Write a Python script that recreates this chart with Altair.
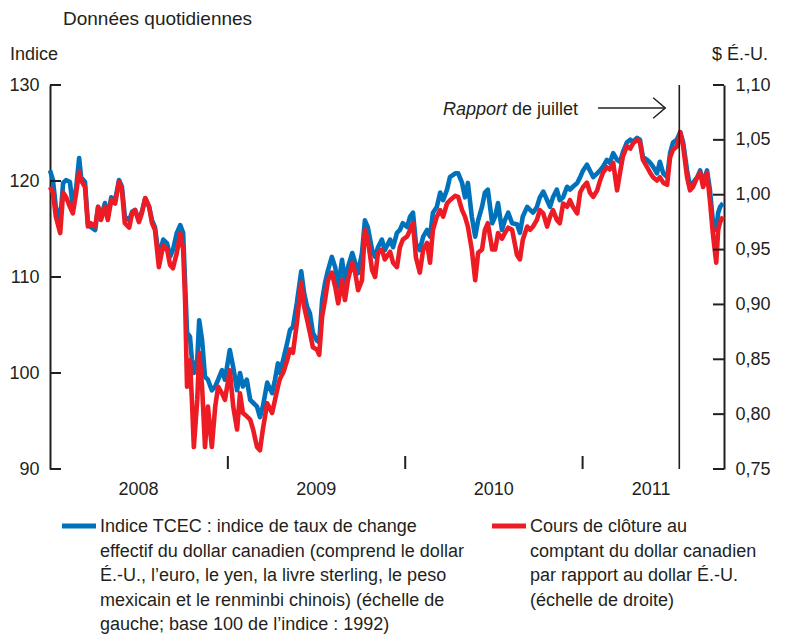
import altair as alt
import pandas as pd

# ---------------- data ----------------
dates = [
    "2008-01-01", "2008-01-07", "2008-01-13", "2008-01-22", "2008-01-28", "2008-02-03", "2008-02-11",
    "2008-02-17", "2008-02-24", "2008-03-01", "2008-03-05", "2008-03-13", "2008-03-19", "2008-03-25",
    "2008-04-03", "2008-04-09", "2008-04-15", "2008-04-23", "2008-04-29", "2008-05-06", "2008-05-14",
    "2008-05-22", "2008-05-28", "2008-06-03", "2008-06-12", "2008-06-18", "2008-06-24", "2008-07-02",
    "2008-07-08", "2008-07-15", "2008-07-23", "2008-07-29", "2008-08-04", "2008-08-12", "2008-08-21",
    "2008-08-29", "2008-09-04", "2008-09-10", "2008-09-18", "2008-09-25", "2008-10-01", "2008-10-05",
    "2008-10-09", "2008-10-15", "2008-10-19", "2008-10-23", "2008-10-30", "2008-11-03", "2008-11-09",
    "2008-11-15", "2008-11-21", "2008-11-29", "2008-12-06", "2008-12-12", "2008-12-20", "2008-12-26",
    "2009-01-05", "2009-01-12", "2009-01-20", "2009-01-26", "2009-02-01", "2009-02-09", "2009-02-16",
    "2009-02-22", "2009-03-02", "2009-03-08", "2009-03-14", "2009-03-23", "2009-04-02", "2009-04-08",
    "2009-04-14", "2009-04-18", "2009-04-25", "2009-05-03", "2009-05-09", "2009-05-15", "2009-05-23",
    "2009-06-01", "2009-06-07", "2009-06-13", "2009-06-19", "2009-06-25", "2009-07-03", "2009-07-08",
    "2009-07-14", "2009-07-20", "2009-07-26", "2009-08-03", "2009-08-10", "2009-08-16", "2009-08-24",
    "2009-08-30", "2009-09-05", "2009-09-14", "2009-09-20", "2009-09-26", "2009-10-04", "2009-10-10",
    "2009-10-16", "2009-10-25", "2009-10-31", "2009-11-06", "2009-11-14", "2009-11-20", "2009-12-01",
    "2009-12-07", "2009-12-15", "2009-12-21", "2009-12-27", "2010-01-05", "2010-01-11", "2010-01-17",
    "2010-01-23", "2010-01-31", "2010-02-07", "2010-02-15", "2010-02-21", "2010-02-27", "2010-03-07",
    "2010-03-14", "2010-03-20", "2010-03-28", "2010-04-03", "2010-04-14", "2010-04-20", "2010-04-28",
    "2010-05-04", "2010-05-10", "2010-05-18", "2010-05-25", "2010-05-31", "2010-06-08", "2010-06-14",
    "2010-06-20", "2010-06-29", "2010-07-05", "2010-07-11", "2010-07-19", "2010-07-25", "2010-08-01",
    "2010-08-09", "2010-08-19", "2010-08-25", "2010-08-31", "2010-09-09", "2010-09-15", "2010-09-21",
    "2010-09-29", "2010-10-05", "2010-10-12", "2010-10-20", "2010-10-26", "2010-11-01", "2010-11-09",
    "2010-11-15", "2010-11-22", "2010-11-30", "2010-12-06", "2010-12-12", "2010-12-21", "2010-12-27",
    "2011-01-02", "2011-01-10", "2011-01-16", "2011-01-23", "2011-01-31", "2011-02-06", "2011-02-12",
    "2011-02-20", "2011-02-26", "2011-03-05", "2011-03-13", "2011-03-19", "2011-03-25", "2011-04-02",
    "2011-04-09", "2011-04-15", "2011-04-23", "2011-04-29", "2011-05-05", "2011-05-14", "2011-05-20",
    "2011-05-26", "2011-06-03", "2011-06-09", "2011-06-16", "2011-06-24", "2011-06-30", "2011-07-06",
    "2011-07-14", "2011-07-21", "2011-07-27", "2011-08-04", "2011-08-10", "2011-08-16", "2011-08-25",
    "2011-08-31", "2011-09-06", "2011-09-14", "2011-09-20", "2011-09-26", "2011-10-03", "2011-10-07",
    "2011-10-11", "2011-10-17",
]

ceri = [
    121.1, 120.1, 117.3, 115.9, 119.8, 120.1, 119.9, 117.3, 119.4, 122.4, 120.4, 119.9, 115.6, 115.2,
    114.9, 117.3, 116.3, 117.7, 116.3, 118.3, 118.0, 120.1, 119.4, 116.3, 115.9, 116.8, 117.0, 115.9,
    116.8, 118.2, 117.3, 115.9, 115.2, 112.1, 113.9, 113.5, 112.1, 112.8, 114.6, 115.4, 114.6, 109.4,
    104.2, 103.8, 101.4, 100.0, 101.4, 105.5, 103.4, 99.6, 99.3, 98.2, 98.6, 99.3, 100.3, 99.3,
    102.4, 100.6, 98.2, 100.0, 98.6, 99.3, 97.2, 96.9, 96.5, 95.4, 96.5, 99.0, 97.9, 99.3,
    101.0, 100.0, 101.4, 103.1, 104.5, 104.8, 107.3, 110.6, 108.3, 106.9, 106.2, 104.2, 103.4, 103.2,
    107.6, 109.4, 110.7, 112.1, 111.0, 109.0, 111.8, 109.4, 111.0, 112.5, 111.5, 110.4, 112.5, 115.9,
    115.2, 112.8, 112.1, 113.1, 113.9, 112.8, 113.9, 113.1, 114.6, 114.9, 115.6, 115.2, 116.3, 116.7,
    113.5, 112.8, 114.2, 114.9, 114.2, 116.7, 117.3, 118.8, 118.0, 119.1, 120.4, 120.8, 120.8, 119.8,
    118.3, 119.8, 116.3, 114.2, 115.9, 117.3, 118.8, 119.1, 115.6, 116.3, 117.7, 114.9, 115.9, 116.7,
    115.6, 115.5, 114.6, 116.3, 117.3, 117.0, 116.7, 117.3, 118.3, 118.9, 118.0, 117.3, 118.3, 119.1,
    118.0, 118.3, 119.4, 119.1, 119.4, 119.8, 120.4, 121.1, 121.7, 121.1, 120.4, 120.8, 121.1, 121.5,
    122.2, 121.9, 122.9, 122.2, 122.0, 123.0, 124.0, 124.3, 124.1, 124.5, 124.3, 122.5, 122.2, 121.9,
    121.5, 120.8, 122.0, 120.8, 120.4, 122.9, 124.0, 124.3, 125.1, 124.0, 121.1, 119.4, 119.8, 120.4,
    121.1, 119.8, 121.1, 119.1, 115.9, 114.9, 116.7, 117.3, 117.7,
]

usd = [
    1.007, 1.002, 0.980, 0.965, 1.002, 0.998, 0.989, 0.983, 1.002, 1.021, 1.013, 1.007, 0.971, 0.974,
    0.971, 0.989, 0.977, 0.989, 0.977, 0.995, 0.992, 1.012, 1.004, 0.974, 0.970, 0.983, 0.986, 0.975,
    0.983, 0.997, 0.989, 0.974, 0.968, 0.934, 0.954, 0.950, 0.936, 0.933, 0.947, 0.965, 0.950, 0.904,
    0.825, 0.849, 0.813, 0.770, 0.813, 0.856, 0.825, 0.770, 0.807, 0.770, 0.807, 0.825, 0.819, 0.813,
    0.840, 0.807, 0.786, 0.819, 0.801, 0.798, 0.795, 0.786, 0.770, 0.767, 0.786, 0.810, 0.801, 0.813,
    0.825, 0.832, 0.838, 0.849, 0.859, 0.856, 0.883, 0.920, 0.898, 0.886, 0.874, 0.861, 0.859, 0.854,
    0.889, 0.904, 0.922, 0.929, 0.916, 0.901, 0.922, 0.904, 0.922, 0.938, 0.929, 0.913, 0.922, 0.968,
    0.959, 0.931, 0.925, 0.947, 0.950, 0.941, 0.948, 0.938, 0.934, 0.952, 0.959, 0.962, 0.968, 0.974,
    0.943, 0.929, 0.950, 0.956, 0.938, 0.968, 0.980, 0.986, 0.980, 0.992, 0.995, 0.999, 0.998, 0.986,
    0.980, 0.971, 0.950, 0.922, 0.947, 0.950, 0.968, 0.974, 0.950, 0.950, 0.965, 0.960, 0.965, 0.970,
    0.968, 0.945, 0.941, 0.959, 0.971, 0.968, 0.971, 0.977, 0.986, 0.983, 0.971, 0.980, 0.986, 0.977,
    0.974, 0.992, 0.989, 0.995, 0.989, 0.983, 1.002, 1.007, 1.011, 1.002, 0.998, 1.004, 1.013, 1.020,
    1.025, 1.023, 1.029, 1.004, 1.020, 1.035, 1.044, 1.042, 1.047, 1.050, 1.048, 1.032, 1.025, 1.020,
    1.016, 1.013, 1.016, 1.011, 1.009, 1.034, 1.041, 1.044, 1.057, 1.044, 1.016, 1.004, 1.007, 1.016,
    1.020, 1.007, 1.020, 0.995, 0.965, 0.938, 0.968, 0.975, 0.980,
]

year_ticks = ["2009-01-01", "2010-01-01", "2011-01-01"]
year_labels = ["2008", "2009", "2010", "2011"]
year_label_dates = ["2008-07-01", "2009-07-02", "2010-07-02", "2011-05-22"]
left_ticks = [90, 100, 110, 120, 130]
right_ticks = [0.75, 0.80, 0.85, 0.90, 0.95, 1.00, 1.05, 1.10]
report_date = ["2011-07-19"]
arrow_span = (["2011-02-02"], ["2011-06-20"])

legend_blue = ("Indice TCEC : indice de taux de change\n"
               "effectif du dollar canadien (comprend le dollar\n"
               "É.-U., l’euro, le yen, la livre sterling, le peso\n"
               "mexicain et le renminbi chinois) (échelle de\n"
               "gauche; base 100 de l’indice : 1992)")
legend_red = ("Cours de clôture au\n"
              "comptant du dollar canadien\n"
              "par rapport au dollar É.-U.\n"
              "(échelle de droite)")

# ---------------- styling ----------------
W, H = 674, 384
FONT = "Liberation Sans"
FS = 18
INK = "#231F20"
BLUE = "#0072BC"
RED = "#ED1C24"

df = pd.DataFrame({"date": pd.to_datetime(dates), "ceri": ceri, "usd": usd})

xs = alt.Scale(domain=[alt.DateTime(year=2008, month=1, date=1),
                       alt.DateTime(year=2011, month=10, date=19)])
left_scale = alt.Scale(domain=[90, 130], nice=False, zero=False)
right_scale = alt.Scale(domain=[0.75, 1.10], nice=False, zero=False)

common_axis = dict(grid=False, title=None, ticks=False, tickSize=0, domainColor=INK,
                   domainWidth=2, labelFont=FONT, labelFontSize=FS, labelColor=INK)

xaxis = alt.Axis(labels=False, **common_axis)

blue = alt.Chart(df).mark_line(color=BLUE, strokeWidth=4.6, strokeJoin="round").encode(
    x=alt.X("date:T", scale=xs, axis=xaxis),
    y=alt.Y("ceri:Q", scale=left_scale,
            axis=alt.Axis(orient="left", values=left_ticks, labelPadding=11, **common_axis)),
)

red = alt.Chart(df).mark_line(color=RED, strokeWidth=4.6, strokeJoin="round").encode(
    x=alt.X("date:T", scale=xs, axis=None),
    y=alt.Y("usd:Q", scale=right_scale,
            axis=alt.Axis(orient="right", values=right_ticks, labelPadding=11,
                          labelExpr="replace(format(datum.value, '.2f'), '.', ',')",
                          **common_axis)),
)

# inward tick marks
lt = alt.Chart(pd.DataFrame({"v": left_ticks})).mark_rule(color=INK, strokeWidth=2).encode(
    y=alt.Y("v:Q", scale=left_scale, axis=None), x=alt.value(0), x2=alt.value(11))
rt = alt.Chart(pd.DataFrame({"v": right_ticks})).mark_rule(color=INK, strokeWidth=2).encode(
    y=alt.Y("v:Q", scale=right_scale, axis=None), x=alt.value(W - 11), x2=alt.value(W))
xt = alt.Chart(pd.DataFrame({"d": pd.to_datetime(year_ticks)})).mark_rule(color=INK, strokeWidth=2).encode(
    x=alt.X("d:T", scale=xs, axis=None), y=alt.value(H), y2=alt.value(H - 13))

# year labels centred in each year's visible span
yl = alt.Chart(pd.DataFrame({"d": pd.to_datetime(year_label_dates), "t": year_labels})).mark_text(
    font=FONT, fontSize=FS, color=INK, align="center", baseline="alphabetic").encode(
    x=alt.X("d:T", scale=xs, axis=None), y=alt.value(H + 26), text="t:N")

# report line and arrow
rep = alt.Chart(pd.DataFrame({"d": pd.to_datetime(report_date)})).mark_rule(color=INK, strokeWidth=1.6).encode(
    x=alt.X("d:T", scale=xs, axis=None), y=alt.value(0), y2=alt.value(H))
arrow_df = pd.DataFrame({"a": pd.to_datetime(arrow_span[0]), "b": pd.to_datetime(arrow_span[1])})
shaft = alt.Chart(arrow_df).mark_rule(color=INK, strokeWidth=1.5).encode(
    x=alt.X("a:T", scale=xs, axis=None), x2="b:T", y=alt.value(23))
head = alt.Chart(arrow_df).mark_point(shape="M-1,-0.85L0,0L-1,0.85", filled=False, size=576,
                                      color=INK, strokeWidth=1.5, opacity=1).encode(
    x=alt.X("b:T", scale=xs, axis=None), y=alt.value(23))


def label(text, x, y, align="left", style="normal", baseline="alphabetic", line_height=None, size=FS):
    kw = dict(font=FONT, fontSize=size, color=INK, align=align, baseline=baseline, fontStyle=style)
    if line_height:
        kw.update(lineBreak="\n", lineHeight=line_height)
    return alt.Chart(pd.DataFrame({"t": [text]})).mark_text(**kw).encode(
        text="t:N", x=alt.value(x), y=alt.value(y))


texts = [
    label("Données quotidiennes", 13, -60, size=19),
    label("Indice", -40, -25),
    label("$ É.-U.", 662, -25),
    label("Rapport", 393, 30, style="italic"),
    label("de juillet", 462, 30),
    label(legend_blue, 50, 447, line_height=24.5),
    label(legend_red, 480, 447, line_height=24.5),
]

sw_blue = alt.Chart(pd.DataFrame({"k": [0]})).mark_rule(color=BLUE, strokeWidth=5).encode(
    x=alt.value(12), x2=alt.value(46), y=alt.value(441))
sw_red = alt.Chart(pd.DataFrame({"k": [0]})).mark_rule(color=RED, strokeWidth=5).encode(
    x=alt.value(442), x2=alt.value(476), y=alt.value(441))

chart = alt.layer(blue, red, lt, rt, xt, yl, rep, shaft, head, sw_blue, sw_red, *texts).resolve_scale(
    y="independent"
).properties(
    width=W, height=H,
    autosize=alt.AutoSizeParams(type="none"),
    padding={"left": 42, "top": 77, "right": 69, "bottom": 166},
).configure_view(stroke=None)

chart.save("out.html", embed_options={"renderer": "svg", "actions": False})
